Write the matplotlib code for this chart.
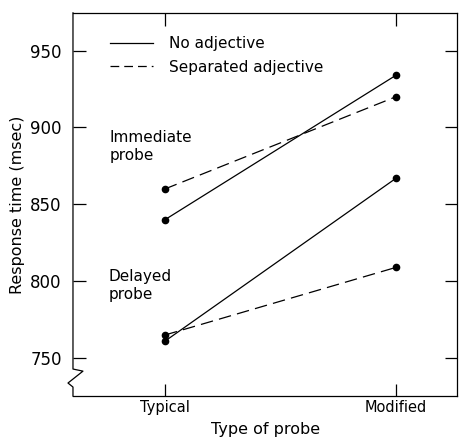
import matplotlib
matplotlib.use("Agg")
import matplotlib.pyplot as plt
from matplotlib.lines import Line2D

categories = ["Typical", "Modified"]
immediate_no_adj = [840, 934]
immediate_sep_adj = [860, 920]
delayed_no_adj = [761, 867]
delayed_sep_adj = [765, 809]
y_ticks = [750, 800, 850, 900, 950]

plt.rcParams['font.family'] = ['DejaVu Sans']

fig = plt.figure(figsize=(4.59, 4.44), dpi=100)
ax = fig.add_axes([0.159, 0.108, 0.837, 0.863])

x = list(range(len(categories)))
dash = (0, (10, 5))
ax.plot(x, immediate_no_adj, color='black', lw=0.9, marker='o', ms=4.5)
ax.plot(x, immediate_sep_adj, color='black', lw=0.9, linestyle=dash, marker='o', ms=4.5)
ax.plot(x, delayed_no_adj, color='black', lw=0.9, marker='o', ms=4.5)
ax.plot(x, delayed_sep_adj, color='black', lw=0.9, linestyle=dash, marker='o', ms=4.5)

ax.set_xlim(-0.398, 1.264)
ax.set_ylim(725.3, 974.5)
ax.set_xticks(x)
ax.set_xticklabels(categories, fontsize=10.5)
ax.set_yticks(y_ticks)
ax.set_yticklabels([str(v) for v in y_ticks], fontsize=12)
ax.tick_params(direction='in', length=9, width=0.9, top=True, right=True, pad=8)
ax.tick_params(axis='x', pad=3)

ax.set_xlabel('Type of probe', fontsize=11.5, labelpad=5)
ax.set_ylabel('Response time (msec)', fontsize=11.5, labelpad=4)

ax.text(-0.24, 898.5, 'Immediate\nprobe', fontsize=11, va='top', ha='left', linespacing=1.3)
ax.text(-0.245, 808, 'Delayed\nprobe', fontsize=11, va='top', ha='left', linespacing=1.3)

handles = [Line2D([], [], color='black', lw=0.9),
           Line2D([], [], color='black', lw=0.9, linestyle=(0, (7, 4)))]
ax.legend(handles, ['No adjective', 'Separated adjective'], loc='upper left',
          bbox_to_anchor=(0.06, 0.975), frameon=False, fontsize=11,
          handlelength=2.8, handletextpad=1.1, labelspacing=0.55)

for s in ax.spines.values():
    s.set_linewidth(0.9)
ax.spines['left'].set_visible(False)
zx = [0, 0, 0.026, -0.013, 0, 0]
zy = [1, 0.0705, 0.065, 0.034, 0.0235, 0]
ax.plot(zx, zy, color='black', lw=0.9, transform=ax.transAxes, clip_on=False)

fig.savefig('out.png', dpi=100, facecolor='white')
